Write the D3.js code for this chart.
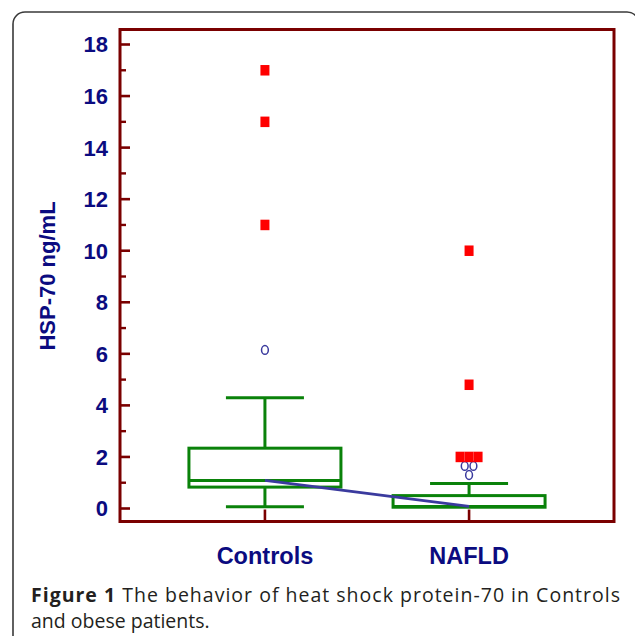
<!DOCTYPE html>
<html>
<head>
<meta charset="utf-8">
<script src="https://cdn.jsdelivr.net/npm/d3@7"></script>
<style>
  html, body { margin: 0; padding: 0; background: #fff; }
  svg { display: block; }
</style>
</head>
<body>
<script>
// ---- data ----
const categories = ["Controls", "NAFLD"];
const whiskerLow  = [0.07, 0.05];
const q1          = [0.83, 0.05];
const median      = [1.09, 0.08];
const q3          = [2.34, 0.50];
const whiskerHigh = [4.30, 0.97];

// outside values (open circles)
const circleCat  = ["Controls", "NAFLD", "NAFLD", "NAFLD"];
const circleVal  = [6.15, 1.65, 1.65, 1.30];
const circleSlot = [0, -0.5, 0.5, 0];

// far-out values (red squares)
const squareCat  = ["Controls", "Controls", "Controls", "NAFLD", "NAFLD", "NAFLD", "NAFLD", "NAFLD"];
const squareVal  = [17, 15, 11, 10, 4.8, 2, 2, 2];
const squareSlot = [0, 0, 0, 0, 0, -1, 0, 1];

const yTicks = [0, 2, 4, 6, 8, 10, 12, 14, 16, 18];
const yMinorTicks = [1, 3, 5, 7, 9, 11, 13, 15, 17];
const yTitle = "HSP-70 ng/mL";
const captionBold = "Figure 1";
const captionRest = " The behavior of heat shock protein-70 in Controls";
const captionLine2 = "and obese patients.";

// ---- layout ----
const W = 635, H = 636;
const frame = { left: 120, right: 614, top: 29.5, bottom: 521.5 };
const navy = "#0b0b80";
const maroon = "#7a0000";
const green = "#0a820a";
const blue = "#3a3a9e";

const svg = d3.select("body").append("svg")
  .attr("width", W).attr("height", H);

// outer rounded border
svg.append("rect")
  .attr("x", 13).attr("y", 12)
  .attr("width", 626).attr("height", 650)
  .attr("rx", 12).attr("ry", 12)
  .attr("fill", "none").attr("stroke", "#3a3a3a").attr("stroke-width", 1.6);

const y = d3.scaleLinear().domain([0, 18]).range([508.5, 44.5]);
const x = d3.scalePoint().domain(categories)
  .range([frame.left, frame.right]).padding(0.71);

const boxW = 152, capW = 78;

// y axis ticks (inward)
const gy = svg.append("g");
gy.selectAll("line.major").data(yTicks).join("line")
  .attr("class", "major")
  .attr("x1", frame.left).attr("x2", frame.left + 10)
  .attr("y1", d => y(d)).attr("y2", d => y(d))
  .attr("stroke", maroon).attr("stroke-width", 2.6);
gy.selectAll("line.minor").data(yMinorTicks).join("line")
  .attr("class", "minor")
  .attr("x1", frame.left).attr("x2", frame.left + 6)
  .attr("y1", d => y(d)).attr("y2", d => y(d))
  .attr("stroke", maroon).attr("stroke-width", 2.4);
gy.selectAll("text").data(yTicks).join("text")
  .attr("x", 108).attr("y", d => y(d))
  .attr("dy", "0.36em")
  .attr("text-anchor", "end")
  .attr("font-family", "Liberation Sans, Arial, sans-serif")
  .attr("font-weight", "bold").attr("font-size", 22)
  .attr("fill", navy)
  .text(d => d);

// x ticks (inward from bottom)
svg.append("g").selectAll("line").data(categories).join("line")
  .attr("x1", d => x(d)).attr("x2", d => x(d))
  .attr("y1", frame.bottom).attr("y2", frame.bottom - 12)
  .attr("stroke", maroon).attr("stroke-width", 2.6);

// frame
svg.append("rect")
  .attr("x", frame.left).attr("y", frame.top)
  .attr("width", frame.right - frame.left).attr("height", frame.bottom - frame.top)
  .attr("fill", "none").attr("stroke", maroon).attr("stroke-width", 3);

// boxes
const idx = categories.map((c, i) => i);
const gb = svg.append("g").attr("stroke", green).attr("stroke-width", 3).attr("fill", "none");
// whisker verticals
gb.selectAll("line.wu").data(idx).join("line").attr("class", "wu")
  .attr("x1", i => x(categories[i])).attr("x2", i => x(categories[i]))
  .attr("y1", i => y(q3[i])).attr("y2", i => y(whiskerHigh[i]));
gb.selectAll("line.wl").data(idx).join("line").attr("class", "wl")
  .attr("x1", i => x(categories[i])).attr("x2", i => x(categories[i]))
  .attr("y1", i => y(q1[i])).attr("y2", i => y(whiskerLow[i]));
// caps
gb.selectAll("line.cu").data(idx).join("line").attr("class", "cu")
  .attr("x1", i => x(categories[i]) - capW / 2).attr("x2", i => x(categories[i]) + capW / 2)
  .attr("y1", i => y(whiskerHigh[i])).attr("y2", i => y(whiskerHigh[i]));
gb.selectAll("line.cl").data(idx.filter(i => whiskerLow[i] < q1[i])).join("line").attr("class", "cl")
  .attr("x1", i => x(categories[i]) - capW / 2).attr("x2", i => x(categories[i]) + capW / 2)
  .attr("y1", i => y(whiskerLow[i])).attr("y2", i => y(whiskerLow[i]));
// box
gb.selectAll("rect").data(idx).join("rect")
  .attr("x", i => x(categories[i]) - boxW / 2).attr("width", boxW)
  .attr("y", i => y(q3[i])).attr("height", i => y(q1[i]) - y(q3[i]))
  .attr("fill", "#fff");
// median
gb.selectAll("line.md").data(idx).join("line").attr("class", "md")
  .attr("x1", i => x(categories[i]) - boxW / 2).attr("x2", i => x(categories[i]) + boxW / 2)
  .attr("y1", i => y(median[i])).attr("y2", i => y(median[i]));

// line connecting medians
svg.append("path")
  .datum(idx)
  .attr("d", d3.line().x(i => x(categories[i])).y(i => y(median[i])))
  .attr("fill", "none").attr("stroke", blue).attr("stroke-width", 2.8);

// outside values: circles
svg.append("g").selectAll("ellipse").data(circleVal.map((v, i) => i)).join("ellipse")
  .attr("cx", i => x(circleCat[i]) + circleSlot[i] * 8.7)
  .attr("cy", i => y(circleVal[i]))
  .attr("rx", 3.4).attr("ry", 4.4)
  .attr("fill", "none").attr("stroke", blue).attr("stroke-width", 1.5);

// far-out values: squares
const sqW = 9, sqH = 10.5;
svg.append("g").selectAll("rect").data(squareVal.map((v, i) => i)).join("rect")
  .attr("x", i => x(squareCat[i]) + squareSlot[i] * 9 - sqW / 2)
  .attr("y", i => y(squareVal[i]) - sqH / 2)
  .attr("width", sqW).attr("height", sqH)
  .attr("fill", "#ff0000");

// y title
svg.append("text")
  .attr("transform", "translate(55,276) rotate(-90)")
  .attr("text-anchor", "middle")
  .attr("font-family", "Liberation Sans, Arial, sans-serif")
  .attr("font-weight", "bold").attr("font-size", 22)
  .attr("fill", navy)
  .text(yTitle);

// category labels
svg.append("g").selectAll("text").data(categories).join("text")
  .attr("x", d => x(d)).attr("y", 564)
  .attr("text-anchor", "middle")
  .attr("font-family", "Liberation Sans, Arial, sans-serif")
  .attr("font-weight", "bold").attr("font-size", 23.5)
  .attr("fill", navy)
  .text(d => d);

// caption
const cap = svg.append("text")
  .attr("x", 31).attr("y", 601.5)
  .attr("font-family", "Open Sans, sans-serif")
  .attr("font-size", 19.5)
  .attr("fill", "#231f20")
  .attr("textLength", 589).attr("lengthAdjust", "spacing");
cap.append("tspan").attr("font-weight", "bold").text(captionBold);
cap.append("tspan").text(captionRest);
svg.append("text")
  .attr("x", 31).attr("y", 628)
  .attr("font-family", "Open Sans, sans-serif")
  .attr("font-size", 19.5)
  .attr("fill", "#231f20")
  .text(captionLine2);
</script>
</body>
</html>
